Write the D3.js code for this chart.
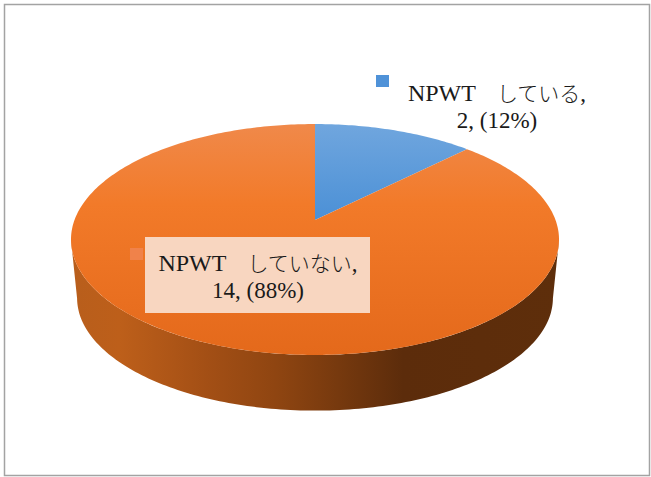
<!DOCTYPE html>
<html>
<head>
<meta charset="utf-8">
<script src="https://cdn.jsdelivr.net/npm/d3@7"></script>
<style>
  html, body { margin: 0; padding: 0; background: #fff; }
  text { font-family: "Liberation Serif", "Noto Sans CJK JP", serif; font-size: 23px; fill: #1a1a1a; }
  .latin { font-size: 24px; }
  .kana { font-size: 21px; font-weight: 300; }
</style>
</head>
<body>
<div id="chart"></div>
<script>
const categories = ["NPWT　している", "NPWT　していない"];
const counts = [2, 14];
const percents = ["12%", "88%"];

const width = 651;
const height = 477;

// the pie is tilted, so the disc goes through a perspective projection
const cx = 315;
const apexY = 220;
const persp = -0.169;
const squash = 75;
const discR = 240.5;
const depth = 58.5;
const bottomScale = 0.975;

function project(angle, level = 0) {
  const u = Math.sin(angle);
  const v = -Math.cos(angle);
  const w = 1 + persp * v;
  const s = level ? bottomScale : 1;
  const yCenter = 239.5 + (level ? depth : 0);
  return [
    cx + (s * discR * u) / w,
    yCenter + s * ((apexY + squash * v) / w - 239.5),
  ];
}

const pie = d3.pie().sort(null).value((d) => d);
const slices = pie(counts);

const svg = d3
  .select("#chart")
  .append("svg")
  .attr("width", width)
  .attr("height", height)
  .style("display", "block");

const defs = svg.append("defs");

function gradient(id, attrs, stops) {
  const g = defs
    .append("linearGradient")
    .attr("id", id)
    .attr("gradientUnits", "userSpaceOnUse");
  Object.entries(attrs).forEach(([k, v]) => g.attr(k, v));
  stops.forEach(([o, c]) => g.append("stop").attr("offset", o).attr("stop-color", c));
}

gradient("topBlue", { x1: 0, y1: 124, x2: 0, y2: 220 }, [
  [0, "#70a6de"],
  [1, "#4b90d6"],
]);
gradient("topOrange", { x1: 0, y1: 124, x2: 0, y2: 355 }, [
  [0, "#f0894a"],
  [0.35, "#f27a29"],
  [1, "#e4691b"],
]);
gradient("side", { x1: 71, y1: 0, x2: 559, y2: 0 }, [
  [0, "#b85e1c"],
  [0.1, "#bd5f1a"],
  [0.28, "#a34f15"],
  [0.42, "#8f4511"],
  [0.55, "#76390e"],
  [0.68, "#5c2c0b"],
  [1, "#5e2e0b"],
]);

svg
  .append("rect")
  .attr("x", 4.5)
  .attr("y", 4.5)
  .attr("width", 645)
  .attr("height", 471)
  .attr("fill", "#fff")
  .attr("stroke", "#a3a3a3")
  .attr("stroke-width", 1.5);

const line = d3.line();

// side wall runs between the two widest points of the rim
const sideAngles = d3.range(100, 261, 1).map((d) => (d * Math.PI) / 180);
svg
  .append("path")
  .attr("fill", "url(#side)")
  .attr(
    "d",
    line([
      ...sideAngles.map((a) => project(a, 0)),
      ...sideAngles.slice().reverse().map((a) => project(a, 1)),
    ]) + "Z"
  );

const topFills = ["url(#topBlue)", "url(#topOrange)"];

svg
  .selectAll(".slice")
  .data(slices)
  .join("path")
  .attr("class", "slice")
  .attr("fill", (d, i) => topFills[i])
  .attr("d", (d) => {
    const n = Math.ceil((d.endAngle - d.startAngle) * 60);
    const rim = d3
      .range(n + 1)
      .map((i) => project(d.startAngle + ((d.endAngle - d.startAngle) * i) / n));
    return line([[cx, apexY], ...rim]) + "Z";
  });

// data labels
svg
  .append("rect")
  .attr("x", 145)
  .attr("y", 237)
  .attr("width", 225)
  .attr("height", 76)
  .attr("fill", "#f8d6c0");

const labelPos = [
  { x: 497, y: 101, kx: 376, ky: 75, fill: "#4f92d8" },
  { x: 258, y: 271, kx: 130, ky: 248, fill: "#f0824a" },
];

const labelG = svg
  .selectAll(".label")
  .data(categories)
  .join("g")
  .attr("class", "label");

labelG
  .append("rect")
  .attr("x", (d, i) => labelPos[i].kx)
  .attr("y", (d, i) => labelPos[i].ky)
  .attr("width", 13)
  .attr("height", 12)
  .attr("fill", (d, i) => labelPos[i].fill);

const firstLine = labelG
  .append("text")
  .attr("text-anchor", "middle")
  .attr("x", (d, i) => labelPos[i].x)
  .attr("y", (d, i) => labelPos[i].y);

firstLine
  .append("tspan")
  .attr("class", "latin")
  .text((d) => d.split("　")[0]);
firstLine
  .append("tspan")
  .attr("class", "kana")
  .text((d) => `　${d.split("　")[1]}`);
firstLine.append("tspan").text(",");

labelG
  .append("text")
  .attr("text-anchor", "middle")
  .attr("x", (d, i) => labelPos[i].x)
  .attr("y", (d, i) => labelPos[i].y + 26.5)
  .text((d, i) => `${counts[i]}, (${percents[i]})`);
</script>
</body>
</html>
